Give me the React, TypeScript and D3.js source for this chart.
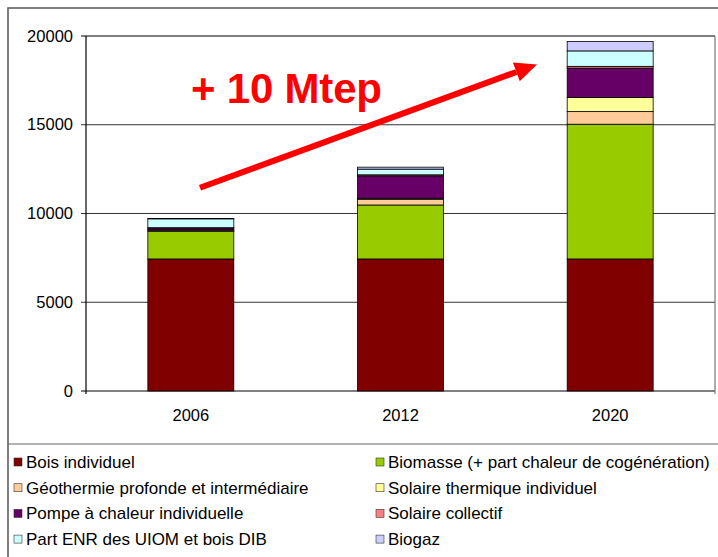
import React from "react";
import * as d3 from "d3";

const years = ["2006", "2012", "2020"];
const seriesNames = [
  "Bois individuel",
  "Biomasse (+ part chaleur de cogénération)",
  "Géothermie profonde et intermédiaire",
  "Solaire thermique individuel",
  "Pompe à chaleur individuelle",
  "Solaire collectif",
  "Part ENR des UIOM et bois DIB",
  "Biogaz",
];
const seriesColors = ["#800000", "#99CC00", "#FFCC99", "#FFFF99", "#660066", "#FF8080", "#CCFFFF", "#CCCCFF"];
const boisIndividuel = [7440, 7440, 7440];
const biomasse = [1560, 3040, 7590];
const geothermie = [60, 320, 710];
const solaireThermique = [20, 60, 790];
const pompeChaleur = [110, 1260, 1660];
const solaireCollectif = [10, 60, 100];
const partENR = [500, 320, 870];
const biogaz = [20, 110, 530];
const yTicks = [0, 5000, 10000, 15000, 20000];
const annotation = "+ 10 Mtep";

const seriesValues = [boisIndividuel, biomasse, geothermie, solaireThermique, pompeChaleur, solaireCollectif, partENR, biogaz];

export default function App() {
  const W = 718, H = 557;
  const left = 86, right = 715, top = 36, bottom = 391;
  const x = d3.scaleBand().domain(years).range([left, right]).paddingInner(0.59).paddingOuter(0.295);
  const y = d3.scaleLinear().domain([0, 20000]).range([bottom, top]);
  const table = years.map((yr, i) => {
    const o: any = { year: yr };
    seriesNames.forEach((s, k) => (o[s] = seriesValues[k][i]));
    return o;
  });
  const stacked = d3.stack().keys(seriesNames)(table);
  const font = "'Liberation Sans', Arial, sans-serif";

  const ax1 = 200, ay1 = y(11450), ax2 = 537, ay2 = y(18400);
  const ang = Math.atan2(ay2 - ay1, ax2 - ax1);
  const hl = 22, hw = 10;
  const bx = ax2 - hl * Math.cos(ang), by = ay2 - hl * Math.sin(ang);
  const px = -Math.sin(ang), py = Math.cos(ang);

  return (
    <svg width={W} height={H} style={{ position: "absolute", left: 0, top: 0, background: "#fff" }} fontFamily={font}>
      <rect x={8} y={8} width={W + 10} height={H + 10} fill="#fff" stroke="#555" strokeWidth={1.5} />
      {yTicks.map((t) => (
        <line key={t} x1={left - 5} x2={right} y1={y(t)} y2={y(t)} stroke="#000" strokeWidth={t === 0 || t === 20000 ? 1.2 : 0.8} />
      ))}
      <line x1={left} x2={left} y1={top} y2={bottom + 3} stroke="#000" strokeWidth={1.2} />
      <line x1={right} x2={right} y1={top} y2={bottom + 3} stroke="#777" strokeWidth={1.2} />
      {yTicks.map((t) => (
        <text key={"l" + t} x={73} y={y(t) + 5.5} textAnchor="end" fontSize={16.5}>{t}</text>
      ))}
      {years.map((yr) => (
        <text key={"x" + yr} x={(x(yr) as number) + x.bandwidth() / 2} y={421} textAnchor="middle" fontSize={16.5}>{yr}</text>
      ))}
      {stacked.map((layer, k) => (
        <g key={k}>
          {layer.map((d, i) => (
            <rect key={i} x={x(years[i]) as number} width={x.bandwidth()} y={y(d[1])} height={Math.max(0, y(d[0]) - y(d[1]))}
              fill={seriesColors[k]} stroke="#000" strokeWidth={0.8} />
          ))}
        </g>
      ))}
      <text x={191} y={103} fontSize={42} fontWeight="bold" fill="#FF0000" letterSpacing={-0.2}>{annotation}</text>
      <line x1={ax1} y1={ay1} x2={bx} y2={by} stroke="#FF0000" strokeWidth={6} />
      <polygon points={`${ax2},${ay2} ${bx + px * hw},${by + py * hw} ${bx - px * hw},${by - py * hw}`} fill="#FF0000" />
      <line x1={8} x2={W} y1={444} y2={444} stroke="#666" strokeWidth={1.2} />
      {seriesNames.map((s, k) => {
        const col = k % 2, row = Math.floor(k / 2);
        const lx = col === 0 ? 14 : 376;
        const ly = 462 + row * 25.7;
        return (
          <g key={"lg" + k}>
            <rect x={lx} y={ly - 4} width={8} height={8} fill={seriesColors[k]} stroke="#333" strokeWidth={0.6} />
            <text x={lx + 12} y={ly + 6} fontSize={17}>{s}</text>
          </g>
        );
      })}
    </svg>
  );
}
